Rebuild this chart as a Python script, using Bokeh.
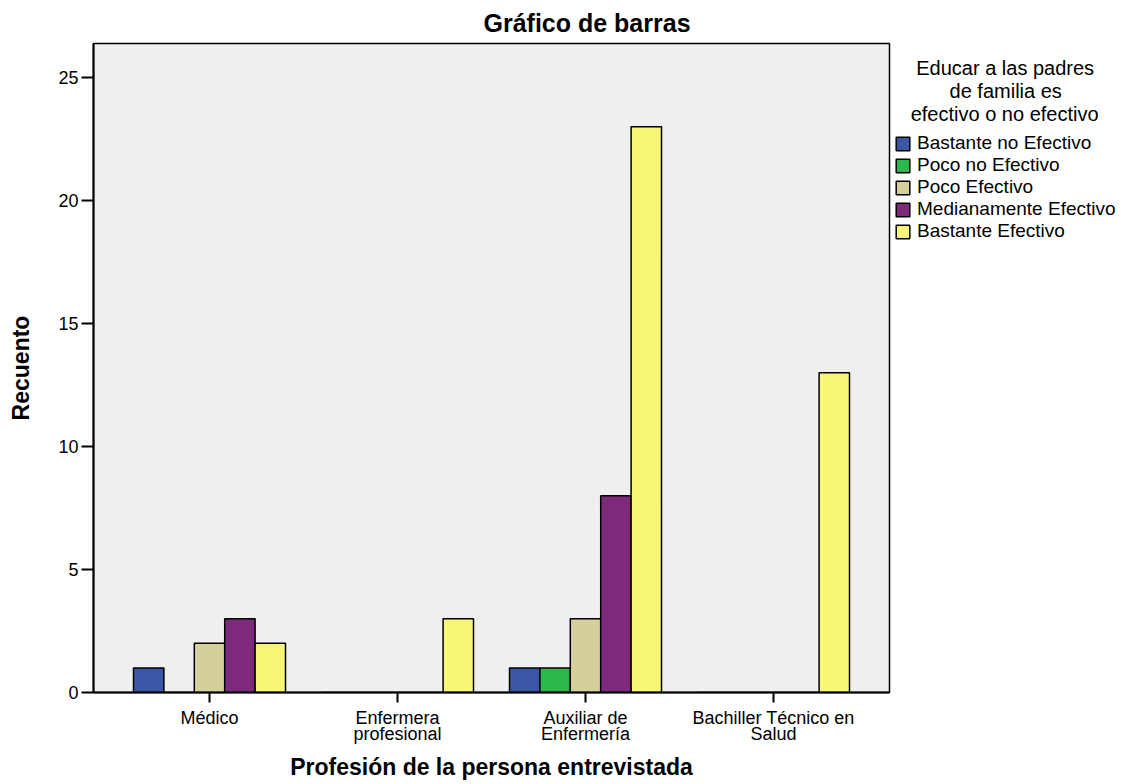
from bokeh.plotting import figure
from bokeh.models import (ColumnDataSource, Range1d, FixedTicker, Legend, LegendItem)
from bokeh.transform import dodge
from bokeh.embed import file_html
from bokeh.resources import INLINE

# ---- data ----
categories = ["Médico", "Enfermera\nprofesional", "Auxiliar de\nEnfermería", "Bachiller Técnico en\nSalud"]
series_names = ["Bastante no Efectivo", "Poco no Efectivo", "Poco Efectivo",
                "Medianamente Efectivo", "Bastante Efectivo"]
bastante_no_efectivo = [1, 0, 1, 0]
poco_no_efectivo = [0, 0, 1, 0]
poco_efectivo = [2, 0, 3, 0]
medianamente_efectivo = [3, 0, 8, 0]
bastante_efectivo = [2, 3, 23, 13]
y_ticks = [0, 5, 10, 15, 20, 25]
legend_title_lines = ["Educar a las padres", "de familia es", "efectivo o no efectivo"]

colors = ["#3c56a6", "#2eb84b", "#d4cf9b", "#7e2a7b", "#f9f677"]
FONT = "Liberation Sans"

series_values = [bastante_no_efectivo, poco_no_efectivo, poco_efectivo,
                 medianamente_efectivo, bastante_efectivo]
pos = list(range(1, len(categories) + 1))
src = ColumnDataSource(dict(pos=pos, **{f"s{i}": v for i, v in enumerate(series_values)}))

# layout (px)
FL, FW, FT, FH = 93, 796, 43, 649
cat_px = 188.0
x0 = 1 - 116.0 / cat_px
x1 = x0 + FW / cat_px
ppu = 24.6
y1 = FH / ppu

p = figure(frame_width=FW, frame_height=FH, min_border_left=FL, min_border_right=1145 - FL - FW,
           min_border_top=FT, min_border_bottom=784 - FT - FH,
           x_range=Range1d(x0, x1), y_range=Range1d(0, y1),
           output_backend="svg", toolbar_location=None, tools="")
p.background_fill_color = "#efefef"
p.border_fill_color = "white"
p.outline_line_color = "black"
p.outline_line_width = 1.5
p.grid.visible = False

# title
p.title.text = "Gráfico de barras"
p.title.align = "left"
p.title.offset = 390
p.title.text_font = FONT
p.title.text_font_style = "bold"
p.title.text_font_size = "25px"
p.title.text_color = "black"
p.title.standoff = 13

bw = 30.4 / cat_px
renderers = []
for i, name in enumerate(series_names):
    r = p.vbar(x=dodge("pos", (i - 2) * bw, range=p.x_range), top=f"s{i}", width=bw,
               source=src, fill_color=colors[i], line_color="black", line_width=1.5)
    renderers.append(r)

# axes
ya = p.yaxis[0]
ya.ticker = FixedTicker(ticks=y_ticks)
ya.major_tick_out = 12
ya.major_tick_in = 0
ya.minor_tick_line_color = None
ya.axis_line_width = 2
ya.major_tick_line_width = 2
ya.major_label_standoff = 3
ya.major_label_text_font = FONT
ya.major_label_text_font_size = "18px"
ya.major_label_text_color = "black"
ya.axis_label = "Recuento"
ya.axis_label_text_font = FONT
ya.axis_label_text_font_style = "bold"
ya.axis_label_text_font_size = "23px"
ya.axis_label_text_color = "black"
ya.axis_label_standoff = 21

xa = p.xaxis[0]
xa.ticker = FixedTicker(ticks=pos)
xa.major_label_overrides = {k: c for k, c in zip(pos, categories)}
xa.major_tick_out = 10
xa.major_tick_in = 0
xa.minor_tick_line_color = None
xa.axis_line_width = 2
xa.major_tick_line_width = 2
xa.major_label_standoff = 5
xa.major_label_text_font = FONT
xa.major_label_text_font_size = "18px"
xa.major_label_text_color = "black"
xa.major_label_text_line_height = 0.8
xa.axis_label = "Profesión de la persona entrevistada"
xa.axis_label_text_font = FONT
xa.axis_label_text_font_style = "bold"
xa.axis_label_text_font_size = "23px"
xa.axis_label_text_color = "black"
xa.axis_label_standoff = 7


# centred multi-line legend title (padded with no-break spaces)
def _centre(lines, widths, extra):
    wmax = max(widths)
    out = []
    for ln, w in zip(lines, widths):
        n = int(round((wmax - w) / 2 / 0.278)) + extra
        out.append("\u00a0" * n + ln)
    return "\n".join(out)


title_em = [8.893, 5.613, 9.394]
legend = Legend(items=[LegendItem(label=n, renderers=[r]) for n, r in zip(series_names, renderers)],
                location=(5, 450), orientation="vertical")
legend.title = _centre(legend_title_lines, title_em, 3)
legend.title_text_font = FONT
legend.title_text_font_size = "20px"
legend.title_text_font_style = "normal"
legend.title_text_color = "black"
legend.title_text_line_height = 0.9
legend.title_standoff = 6
legend.padding = 0
legend.margin = 0
legend.spacing = 0
legend.glyph_width = 17
legend.glyph_height = 17
legend.label_height = 18
legend.label_standoff = 6
legend.label_text_font = FONT
legend.label_text_font_size = "19px"
legend.label_text_color = "black"
legend.border_line_alpha = 0
legend.background_fill_alpha = 0
p.add_layout(legend, "right")

open("out.html", "w").write(file_html(p, INLINE))
